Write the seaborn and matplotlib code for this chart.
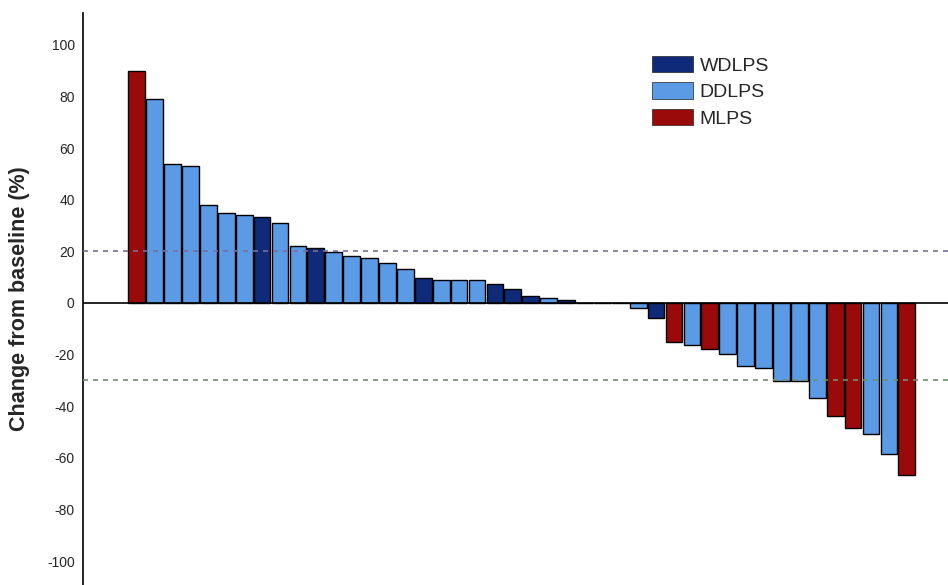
import pandas as pd
import numpy as np
import seaborn as sns
import matplotlib.pyplot as plt
from matplotlib.patches import Patch

change = [90, 79, 54, 53, 38, 35, 34, 33.5, 31, 22, 21.5, 19.7, 18.1, 17.3, 15.6,
          13.3, 9.7, 9.0, 9.0, 8.8, 7.5, 5.4, 2.7, 1.8, 1.3, 0, 0, 0,
          -2.0, -5.8, -15.2, -16.4, -17.7, -19.8, -24.4, -25.0, -30.2, -30.4,
          -37.0, -43.8, -48.6, -50.9, -58.4, -66.8]
subtype = ["MLPS"] + ["DDLPS"] * 6 + ["WDLPS"] + ["DDLPS"] * 2 + ["WDLPS"] \
    + ["DDLPS"] * 5 + ["WDLPS"] + ["DDLPS"] * 3 + ["WDLPS"] * 3 + ["DDLPS", "WDLPS"] \
    + ["DDLPS"] * 3 + ["DDLPS", "WDLPS", "MLPS", "DDLPS", "MLPS"] + ["DDLPS"] * 6 \
    + ["MLPS"] * 2 + ["DDLPS"] * 2 + ["MLPS"]
groups = ["WDLPS", "DDLPS", "MLPS"]
colors = ["#0f2a78", "#5b9be6", "#9b0a0a"]
yticks = list(range(-100, 101, 20))

df = pd.DataFrame({"patient": [str(i) for i in range(len(change))],
                   "change": change, "subtype": subtype})

sns.set_style("white")
plt.rcParams["font.family"] = ["Liberation Sans", "DejaVu Sans"]

fig = plt.figure(figsize=(9.48, 5.85), dpi=100)
ax = fig.add_axes([83 / 948, 0, 865 / 948, 572 / 585])

sns.barplot(data=df, x="patient", y="change", hue="subtype", hue_order=groups,
            palette=dict(zip(groups, colors)), dodge=False, width=0.93,
            edgecolor="black", linewidth=1.0, saturation=1, legend=False, ax=ax)

ax.axhline(0, color="black", lw=1.2, zorder=5)
ax.axhline(20, color="#7a6e9c", lw=1.2, ls=(0, (3, 3)), zorder=6)
ax.axhline(-30, color="#6f8f72", lw=1.2, ls=(0, (3, 3)), zorder=6)

ax.set_xlim(-3.0, 45.3)
ax.set_ylim(-109.3, 112.4)
ax.set_yticks(yticks)
ax.set_yticklabels([str(t) for t in yticks], fontsize=10)
ax.tick_params(axis="y", direction="in", length=5, width=0.8, color="#555555", pad=6)
ax.set_xticks([])
ax.set_xlabel("")
ax.set_ylabel("Change from baseline (%)", fontsize=15.5, fontweight="bold", labelpad=12)

for s in ["top", "right", "bottom"]:
    ax.spines[s].set_visible(False)
ax.spines["left"].set_color("black")
ax.spines["left"].set_linewidth(1.2)

handles = [Patch(facecolor=c, edgecolor="#222222", lw=0.5, label=g) for g, c in zip(groups, colors)]
ax.legend(handles=handles, loc="upper left", bbox_to_anchor=(0.658, 0.925), frameon=False,
          fontsize=14, handlelength=2.1, handleheight=0.9, handletextpad=0.35,
          labelspacing=0.4, borderpad=0, borderaxespad=0)

plt.savefig("out.png", dpi=100)
